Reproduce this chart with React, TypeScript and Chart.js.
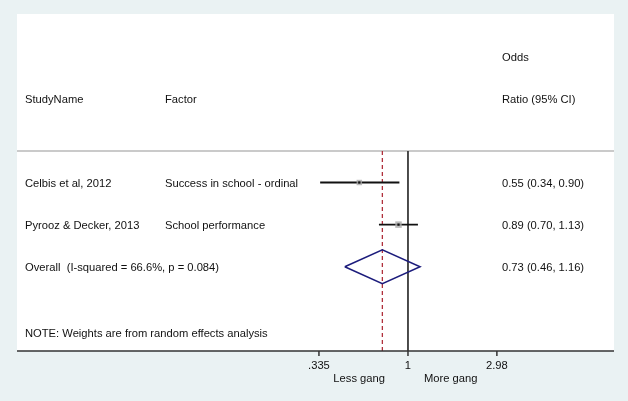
import React, { useEffect, useRef } from "react";
import { Chart, registerables } from "chart.js";

Chart.register(...registerables);

// ---- Data ----
const studyNames = ["Celbis et al, 2012", "Pyrooz & Decker, 2013"];
const factors = ["Success in school - ordinal", "School performance"];
const oddsRatios = [0.55, 0.89];
const ciLower = [0.34, 0.7];
const ciUpper = [0.9, 1.13];
const weights = [41.2, 58.8];
const overallOR = 0.73;
const overallLower = 0.46;
const overallUpper = 1.16;
const overallLabel = "Overall  (I-squared = 66.6%, p = 0.084)";
const noteText = "NOTE: Weights are from random effects analysis";
const headerCols = ["StudyName", "Factor"];
const headerOR = ["Odds", "Ratio (95% CI)"];
const tickValues = [0.335, 1, 2.98];
const tickLabels = [".335", "1", "2.98"];
const axisLabels = ["Less gang", "More gang"];
const X_MIN = 0.00821;
const X_MAX = 12.56;

// row indices (y scale units)
const studyRows = studyNames.map((_, i) => i + 1);
const overallRow = studyNames.length + 1;
const headerRows = [-2, -1];
const separatorRow = 0.25;
const noteRow = 4.55;
const Y_MIN = -3;
const Y_MAX = 5;

const FONT = '11.2px "Liberation Sans", Arial, sans-serif';
const TEXT = "#111111";
const TEXT_DY = 1.5;
const fmt = (v: number) => v.toFixed(2);

export default function App() {
  const ref = useRef<HTMLCanvasElement | null>(null);

  useEffect(() => {
    if (!ref.current) return;

    const ciDatasets = studyNames.map((_, i) => ({
      label: "ci" + i,
      data: [
        { x: ciLower[i], y: studyRows[i] },
        { x: ciUpper[i], y: studyRows[i] },
      ],
      showLine: true,
      borderColor: "#111111",
      borderWidth: 1.8,
      pointRadius: 0,
      order: 2,
    }));

    const boxes = {
      label: "weights",
      data: studyNames.map((_, i) => ({ x: oddsRatios[i], y: studyRows[i] })),
      pointStyle: "rect",
      pointRadius: weights.map((w) => 0.6 * Math.sqrt(w)),
      backgroundColor: "rgba(170,170,170,0.8)",
      borderColor: "rgba(170,170,170,0.8)",
      borderWidth: 0,
      order: 1,
    };

    const points = {
      label: "points",
      data: studyNames.map((_, i) => ({ x: oddsRatios[i], y: studyRows[i] })),
      pointStyle: "rect",
      pointRadius: 1.6,
      backgroundColor: "#111111",
      borderColor: "#111111",
      borderWidth: 0,
      order: 0,
    };

    const diamond = {
      label: "overall",
      data: [
        { x: overallLower, y: overallRow },
        { x: overallOR, y: overallRow - 0.4 },
        { x: overallUpper, y: overallRow },
        { x: overallOR, y: overallRow + 0.4 },
        { x: overallLower, y: overallRow },
      ],
      showLine: true,
      borderColor: "#1c1c7c",
      borderWidth: 1.5,
      pointRadius: 0,
      fill: false,
      order: 0,
    };

    const nullLine = {
      label: "null",
      data: [
        { x: 1, y: separatorRow },
        { x: 1, y: Y_MAX },
      ],
      showLine: true,
      borderColor: "#3a3a3a",
      borderWidth: 1.8,
      pointRadius: 0,
      order: 4,
    };

    const overallLine = {
      label: "overallLine",
      data: [
        { x: overallOR, y: separatorRow },
        { x: overallOR, y: Y_MAX },
      ],
      showLine: true,
      borderColor: "#b0303c",
      borderWidth: 1.3,
      borderDash: [4, 3],
      pointRadius: 0,
      order: 3,
    };

    const decor = {
      id: "forestDecor",
      beforeDraw(chart: any) {
        const { ctx, chartArea } = chart;
        ctx.save();
        ctx.fillStyle = "#eaf2f3";
        ctx.fillRect(0, 0, chart.width, chart.height);
        ctx.fillStyle = "#ffffff";
        ctx.fillRect(
          chartArea.left,
          chartArea.top,
          chartArea.right - chartArea.left,
          chartArea.bottom - chartArea.top
        );
        ctx.restore();
      },
      beforeDatasetsDraw(chart: any) {
        const { ctx, chartArea } = chart;
        const ys = chart.scales.y;
        ctx.save();
        const sy = ys.getPixelForValue(separatorRow);
        ctx.strokeStyle = "#b8b8b8";
        ctx.lineWidth = 1.5;
        ctx.beginPath();
        ctx.moveTo(chartArea.left, sy);
        ctx.lineTo(chartArea.right, sy);
        ctx.stroke();

        ctx.fillStyle = TEXT;
        ctx.font = FONT;
        ctx.textBaseline = "middle";
        ctx.textAlign = "left";
        const rowY = (r: number) => ys.getPixelForValue(r) + TEXT_DY;
        const colStudy = chartArea.left + 8;
        const colFactor = chartArea.left + 148;
        const colOR = chartArea.left + 485;
        ctx.fillText(headerOR[0], colOR, rowY(headerRows[0]));
        ctx.fillText(headerCols[0], colStudy, rowY(headerRows[1]));
        ctx.fillText(headerCols[1], colFactor, rowY(headerRows[1]));
        ctx.fillText(headerOR[1], colOR, rowY(headerRows[1]));
        studyNames.forEach((name, i) => {
          const y = rowY(studyRows[i]);
          ctx.fillText(name, colStudy, y);
          ctx.fillText(factors[i], colFactor, y);
          ctx.fillText(
            `${fmt(oddsRatios[i])} (${fmt(ciLower[i])}, ${fmt(ciUpper[i])})`,
            colOR,
            y
          );
        });
        const oy = rowY(overallRow);
        ctx.fillText(overallLabel, colStudy, oy);
        ctx.fillText(
          `${fmt(overallOR)} (${fmt(overallLower)}, ${fmt(overallUpper)})`,
          colOR,
          oy
        );
        ctx.fillText(noteText, colStudy, rowY(noteRow));
        ctx.restore();
      },
      afterDatasetsDraw(chart: any) {
        const { ctx, chartArea } = chart;
        const xs = chart.scales.x;
        ctx.save();
        const by = chartArea.bottom;
        ctx.strokeStyle = "#333333";
        ctx.lineWidth = 1.5;
        ctx.beginPath();
        ctx.moveTo(chartArea.left, by);
        ctx.lineTo(chartArea.right, by);
        ctx.stroke();
        ctx.fillStyle = TEXT;
        ctx.font = FONT;
        ctx.textBaseline = "middle";
        ctx.textAlign = "center";
        tickValues.forEach((v, i) => {
          const x = xs.getPixelForValue(v);
          ctx.beginPath();
          ctx.moveTo(x, by);
          ctx.lineTo(x, by + 5);
          ctx.stroke();
          ctx.fillText(tickLabels[i], x, by + 15);
        });
        const x1 = xs.getPixelForValue(1);
        ctx.textAlign = "right";
        ctx.fillText(axisLabels[0], x1 - 23, by + 28);
        ctx.textAlign = "left";
        ctx.fillText(axisLabels[1], x1 + 16, by + 28);
        ctx.restore();
      },
    };

    const chart = new Chart(ref.current, {
      type: "scatter",
      data: {
        datasets: [
          ...ciDatasets,
          boxes,
          points,
          diamond,
          nullLine,
          overallLine,
        ] as any,
      },
      options: {
        animation: false,
        responsive: false,
        devicePixelRatio: 1,
        layout: {
          autoPadding: false,
          padding: { left: 17, right: 14, top: 14, bottom: 50 },
        },
        plugins: {
          legend: { display: false },
          tooltip: { enabled: false },
        },
        scales: {
          x: { type: "logarithmic", min: X_MIN, max: X_MAX, display: false },
          y: { type: "linear", min: Y_MIN, max: Y_MAX, reverse: true, display: false },
        },
        elements: { line: { tension: 0 } },
      } as any,
      plugins: [decor],
    });

    return () => chart.destroy();
  }, []);

  return (
    <div style={{ position: "absolute", left: 0, top: 0, width: 628, height: 401 }}>
      <canvas ref={ref} width={628} height={401} style={{ display: "block" }} />
    </div>
  );
}
